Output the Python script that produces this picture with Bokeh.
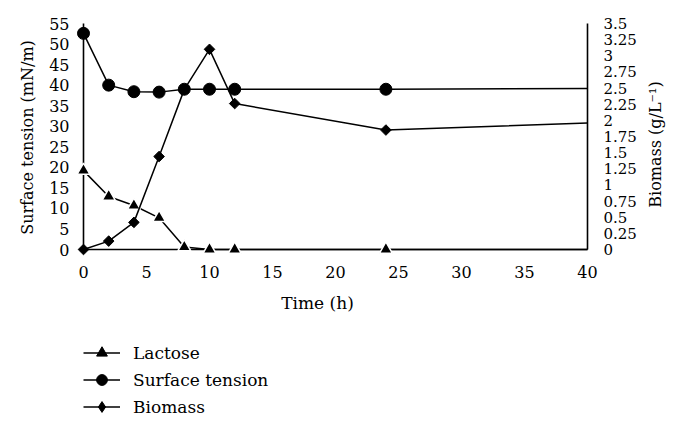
import math
from bokeh.plotting import figure
from bokeh.models import (Range1d, LinearAxis, FixedTicker, CustomJSTickFormatter,
                          Legend, LegendItem, Label)
from bokeh.embed import file_html
from bokeh.resources import INLINE

# ---- data ----
time_h = [0, 2, 4, 6, 8, 10, 12, 24]
lactose = [19.2, 12.9, 10.7, 7.7, 0.6, 0.0, 0.0, 0.0]
surface_tension = [52.6, 40.0, 38.4, 38.3, 39.0, 39.0, 39.0, 39.0]
biomass = [0.0, 0.13, 0.42, 1.44, 2.48, 3.10, 2.26, 1.85]
# line continuation to the end of the time axis (no marker there)
end_time = 40
surface_tension_end = 39.2
biomass_end = 1.96
lactose_end = 0.0

x_ticks = [0, 5, 10, 15, 20, 25, 30, 35, 40]
left_ticks = [0, 5, 10, 15, 20, 25, 30, 35, 40, 45, 50, 55]
right_ticks = [0, 0.25, 0.5, 0.75, 1, 1.25, 1.5, 1.75, 2, 2.25, 2.5, 2.75, 3, 3.25, 3.5]

X_MAX, Y_MAX, BIO_MAX = 40, 55, 3.5

# ---- layout (pixels on the canvas) ----
W, H = 680, 420
AX_LEFT, AX_RIGHT = 83, 587      # x = 0 and x = 40
AX_BOTTOM, AX_TOP = 249, 23      # y = 0 and y = max

sx = X_MAX / (AX_RIGHT - AX_LEFT)
sy = Y_MAX / (AX_BOTTOM - AX_TOP)
sb = BIO_MAX / (AX_BOTTOM - AX_TOP)

FONT = "DejaVu Serif"

p = figure(width=W, height=H, min_border=0,
           x_axis_type=None, y_axis_type=None,
           x_range=Range1d(-AX_LEFT * sx, X_MAX + (W - AX_RIGHT) * sx),
           y_range=Range1d(-(H - AX_BOTTOM) * sy, Y_MAX + AX_TOP * sy),
           output_backend="svg", toolbar_location=None,
           background_fill_color="white", border_fill_color="white")
p.outline_line_color = None
p.extra_y_ranges = {"bio": Range1d(-(H - AX_BOTTOM) * sb, BIO_MAX + AX_TOP * sb)}


def style_axis(ax, size):
    ax.major_tick_line_color = None
    ax.minor_tick_line_color = None
    ax.axis_line_color = "black"
    ax.axis_line_width = 1.6
    ax.major_label_text_font = FONT
    ax.major_label_text_font_size = size
    ax.major_label_text_color = "black"


xax = LinearAxis(fixed_location=0, bounds=(0, X_MAX), ticker=FixedTicker(ticks=x_ticks))
style_axis(xax, "16px")
xax.major_label_standoff = 10
p.add_layout(xax, "below")

lax = LinearAxis(fixed_location=0, bounds=(0, Y_MAX), ticker=FixedTicker(ticks=left_ticks))
style_axis(lax, "16px")
lax.major_label_standoff = 8
p.add_layout(lax, "left")

rax = LinearAxis(fixed_location=X_MAX, y_range_name="bio", bounds=(0, BIO_MAX),
                 ticker=FixedTicker(ticks=right_ticks),
                 formatter=CustomJSTickFormatter(code="return tick.toString();"))
style_axis(rax, "15px")
rax.major_label_standoff = 10
p.add_layout(rax, "right")

# axis titles
p.add_layout(Label(x=(317 - AX_LEFT) * sx, y=(AX_BOTTOM - 302) * sy,
                   text="Time (h)", text_align="center", text_baseline="middle",
                   text_font=FONT, text_font_size="17px", text_color="black"))
p.add_layout(Label(x=(27 - AX_LEFT) * sx, y=(AX_BOTTOM - 137) * sy, angle=math.pi / 2,
                   text="Surface tension (mN/m)", text_align="center", text_baseline="middle",
                   text_font=FONT, text_font_size="16px", text_color="black"))
p.add_layout(Label(x=(655 - AX_LEFT) * sx, y=(AX_BOTTOM - 144) * sy, angle=math.pi / 2,
                   text="Biomass (g/L\u207b\u00b9)", text_align="center", text_baseline="middle",
                   text_font=FONT, text_font_size="16px", text_color="black"))

LW = 1.5
# lactose
l_line = p.line(time_h + [end_time], lactose + [lactose_end], line_color="black", line_width=LW, level="overlay")
# small solid triangles (used as the legend key), covered by the outlined markers
l_key = p.scatter(time_h, lactose, marker="triangle", size=7, fill_color="black",
                  line_color="black", level="overlay")
p.scatter(time_h, lactose, marker="triangle", size=13, fill_color="black",
          line_color="white", line_width=1.5, level="overlay")
# surface tension
s_line = p.line(time_h + [end_time], surface_tension + [surface_tension_end], line_color="black", line_width=LW, level="overlay")
s_pts = p.scatter(time_h, surface_tension, marker="circle", size=12, fill_color="black",
                  line_color="black", level="overlay")
# biomass
b_line = p.line(time_h + [end_time], biomass + [biomass_end], y_range_name="bio",
                line_color="black", line_width=LW, level="overlay")
b_key = p.scatter(time_h, biomass, marker="diamond", size=6, fill_color="black",
                  line_color="black", y_range_name="bio", level="overlay")
p.scatter(time_h, biomass, marker="square", angle=math.pi / 4, size=7.5,
          fill_color="black", line_color="black", y_range_name="bio", level="overlay")

legend = Legend(items=[
    LegendItem(label="Lactose", renderers=[l_line, l_key]),
    LegendItem(label="Surface tension", renderers=[s_line, s_pts]),
    LegendItem(label="Biomass", renderers=[b_line, b_key]),
], location=(AX_LEFT, H - 420), orientation="vertical")
legend.label_text_font = FONT
legend.label_text_font_size = "17px"
legend.label_text_color = "black"
legend.border_line_color = None
legend.background_fill_alpha = 0
legend.glyph_width = 37
legend.glyph_height = 27
legend.label_height = 27
legend.spacing = 0
legend.label_standoff = 13
legend.padding = 0
legend.margin = 0
p.add_layout(legend, "center")

open("out.html", "w").write(file_html(p, INLINE))
